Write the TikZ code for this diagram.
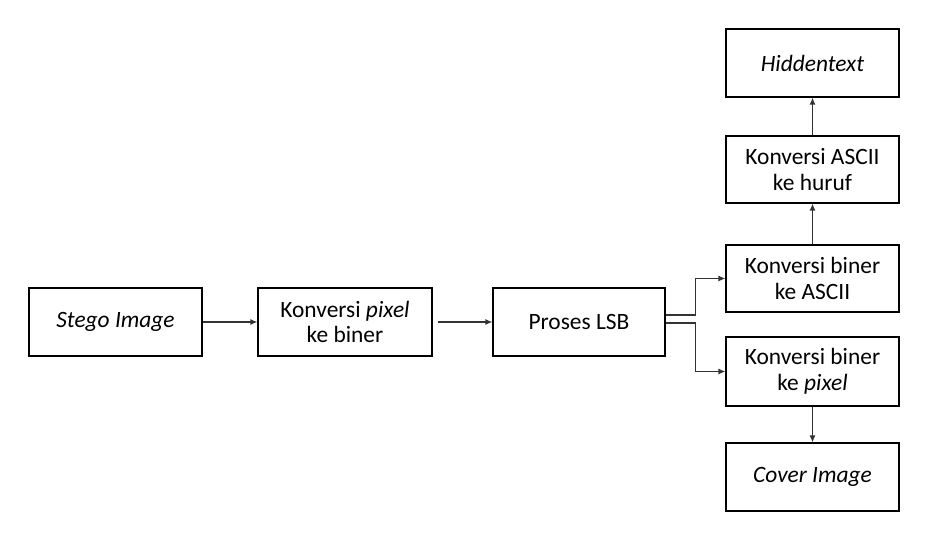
\documentclass[tikz,border=0pt]{standalone}
\usepackage{fontspec}
\setmainfont{Carlito}
\usetikzlibrary{arrows.meta}
\tikzset{
  box/.style={draw=black, line width=1.2bp, minimum width=173bp, minimum height=68bp, inner sep=0pt, align=center, font=\fontsize{23.5}{26}\selectfont},
  arr/.style={draw=black!80, line width=1.2bp, -{Latex[length=7bp,width=6bp]}}
}
\begin{document}
\begin{tikzpicture}[x=1bp,y=-1bp]
\useasboundingbox (0,0) rectangle (950,542);
\node[box] (stego) at (115.5,322) {\textit{Stego Image}};
\node[box, minimum width=174bp] (pix) at (345,322) {Konversi \textit{pixel}\\ke biner};
\node[box, minimum width=172bp] (lsb) at (579,322) {Proses LSB};
\node[box, minimum height=67bp] (ascii) at (812.5,278.5) {Konversi biner\\ke ASCII};
\node[box, minimum height=69bp] (bpix) at (812.5,371.5) {Konversi biner\\ke \textit{pixel}};
\node[box] (cover) at (812.5,477) {\textit{Cover Image}};
\node[box, minimum height=67bp] (huruf) at (812.5,169.5) {Konversi ASCII\\ke huruf};
\node[box] (hidden) at (812.5,63) {\textit{Hiddentext}};
\draw[arr] (stego.east) -- (pix.west);
\draw[arr] (pix.east) ++(5,0) -- (lsb.west);
\draw[arr] ([yshift=7bp]lsb.east) -- ++(30,0) |- (ascii.west);
\draw[arr] ([yshift=-1bp]lsb.east) -- ++(30,0) |- (bpix.west);
\draw[arr] (ascii.north) -- (huruf.south);
\draw[arr] (huruf.north) -- (hidden.south);
\draw[arr] (bpix.south) -- (cover.north);
\end{tikzpicture}
\end{document}
